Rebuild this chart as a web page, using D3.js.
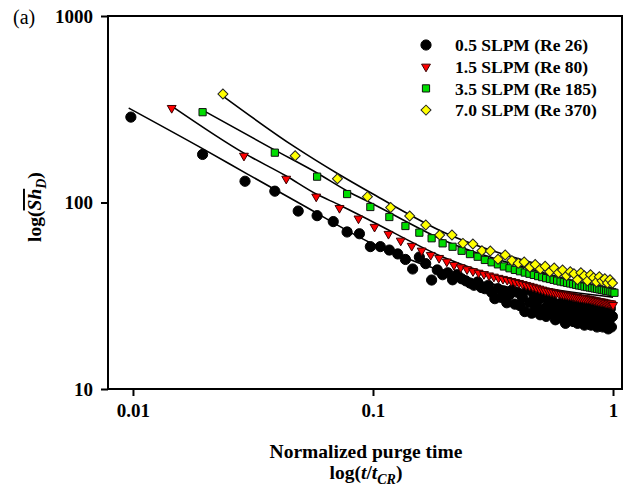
<!DOCTYPE html>
<html lang="en">
  <head>
    <meta charset="UTF-8" />
    <title>Sherwood number vs normalized purge time</title>
    <script src="https://cdn.jsdelivr.net/npm/d3@7"></script>
    <style>
      body { margin: 0; background: #fff; }
      svg text { font-family: "Liberation Serif", "Times New Roman", serif; }
    </style>
  </head>
  <body>
    <div id="chart"></div>
    <script>
      // values (t/tCR and mean Sh_D)
      const seriesLabels = ["0.5 SLPM (Re 26)", "1.5 SLPM (Re 80)", "3.5 SLPM (Re 185)", "7.0 SLPM (Re 370)"];
      const xTicks = [0.01, 0.1, 1];
      const xTickLabels = ["0.01", "0.1", "1"];
      const yTicks = [10, 100, 1000];
      const yTickLabels = ["10", "100", "1000"];

      const blackT = [0.0098, 0.0195, 0.0293, 0.039, 0.0488, 0.0585, 0.0683, 0.078, 0.0878, 0.0975,
        0.1073, 0.117, 0.1268, 0.1365, 0.1463, 0.156, 0.1658, 0.1755, 0.1853, 0.195,
        0.2048, 0.2145, 0.2243, 0.234, 0.2438, 0.2535, 0.2633, 0.273, 0.2828, 0.2925,
        0.3023, 0.312, 0.3218, 0.3315, 0.3413, 0.351, 0.3608, 0.3705, 0.3803, 0.39,
        0.3998, 0.4095, 0.4193, 0.429, 0.4388, 0.4485, 0.4583, 0.468, 0.4778, 0.4875,
        0.4973, 0.507, 0.5168, 0.5265, 0.5363, 0.546, 0.5558, 0.5655, 0.5753, 0.585,
        0.5948, 0.6045, 0.6143, 0.624, 0.6338, 0.6435, 0.6533, 0.663, 0.6728, 0.6825,
        0.6923, 0.702, 0.7118, 0.7215, 0.7313, 0.741, 0.7508, 0.7605, 0.7703, 0.78,
        0.7898, 0.7995, 0.8093, 0.819, 0.8288, 0.8385, 0.8483, 0.858, 0.8678, 0.8775,
        0.8873, 0.897, 0.9068, 0.9165, 0.9263, 0.936, 0.9458, 0.9555, 0.9653, 0.975,
        0.9848, 0.9945];
      const blackV = [287, 181, 130, 115, 90, 85, 79, 69.5, 68, 58,
        58, 55.6, 53, 49.5, 44, 51, 47, 38.4, 43.5, 41,
        42, 38.5, 41, 39, 38, 37, 36, 37.5, 35, 34.5,
        36, 33, 30.5, 34.5, 31, 33.5, 29, 32, 34, 28.5,
        33, 28, 31, 26, 34, 29, 25.5, 32, 27.5, 30,
        25, 31.5, 27, 24.5, 29.5, 27, 30, 25.5, 23.5, 28.5,
        26, 24, 29, 25, 22.5, 27.5, 24.5, 29, 26, 23,
        28, 25, 22.5, 27, 29.5, 24, 26.5, 22, 25.5, 28.5,
        23.5, 26, 22, 25, 28, 23, 26.5, 21.5, 24.5, 28,
        22.5, 25.5, 21.5, 24, 27.5, 22, 25, 21, 23.5, 27,
        21.5, 24.5];

      const redT = [0.0145, 0.029, 0.0435, 0.058, 0.0725, 0.087, 0.1015, 0.116, 0.1305, 0.145,
        0.1595, 0.174, 0.1885, 0.203, 0.2175, 0.232, 0.2465, 0.261, 0.2755, 0.29,
        0.3045, 0.319, 0.3335, 0.348, 0.3625, 0.377, 0.3915, 0.406, 0.4205, 0.435,
        0.4495, 0.464, 0.4785, 0.493, 0.5075, 0.522, 0.5365, 0.551, 0.5655, 0.58,
        0.5945, 0.609, 0.6235, 0.638, 0.6525, 0.667, 0.6815, 0.696, 0.7105, 0.725,
        0.7395, 0.754, 0.7685, 0.783, 0.7975, 0.812, 0.8265, 0.841, 0.8555, 0.87,
        0.8845, 0.899, 0.9135, 0.928, 0.9425, 0.957, 0.9715, 0.986, 1.0005];
      const redV = [321, 178, 134, 107.5, 93.4, 82, 74, 67.8, 62.4, 58.5,
        55.2, 52.3, 50.4, 48.2, 46.2, 44.9, 43.8, 42.8, 42, 41.3,
        40.6, 40, 39.4, 38.9, 38.4, 37.9, 37.4, 37, 36.5, 36.1,
        35.7, 35.3, 34.9, 34.5, 34.1, 33.7, 33.5, 33.2, 33, 32.7,
        32.5, 32.3, 32.1, 32, 31.8, 31.6, 31.4, 31.2, 31.1, 30.9,
        30.8, 30.7, 30.6, 30.5, 30.4, 30.2, 30.1, 29.9, 29.8, 29.6,
        29.5, 29.4, 29.3, 29.1, 29, 28.9, 28.8, 28.7, 28.2];

      const greenT = [0.0195, 0.039, 0.0585, 0.078, 0.0975, 0.117, 0.1365, 0.156, 0.1755, 0.195,
        0.2145, 0.234, 0.2535, 0.273, 0.2925, 0.312, 0.3315, 0.351, 0.3705, 0.39,
        0.4095, 0.429, 0.4485, 0.468, 0.4875, 0.507, 0.5265, 0.546, 0.5655, 0.585,
        0.6045, 0.624, 0.6435, 0.663, 0.6825, 0.702, 0.7215, 0.741, 0.7605, 0.78,
        0.7995, 0.819, 0.8385, 0.858, 0.8775, 0.897, 0.9165, 0.936, 0.9555, 0.975,
        0.9945, 1.014];
      const greenV = [305, 185, 137.6, 111, 94.6, 83.6, 74.8, 68.9, 64.3, 60.4,
        57.9, 55.1, 52.9, 51.2, 49.2, 47.8, 46.6, 45.4, 44.4, 43.5,
        42.8, 42.1, 41.5, 40.9, 40.3, 39.8, 39.3, 38.9, 38.5, 38.1,
        37.7, 37.4, 37.1, 36.8, 36.5, 36.2, 35.9, 35.7, 35.4, 35.2,
        35, 34.8, 34.6, 34.4, 34.2, 34, 33.8, 33.6, 33.5, 33.3,
        33.1, 32.8];

      const yellowT = [0.0237, 0.0474, 0.0711, 0.0948, 0.1185, 0.1422, 0.1659, 0.1896, 0.2133, 0.237,
        0.2607, 0.2844, 0.3081, 0.3318, 0.3555, 0.3792, 0.4029, 0.4266, 0.4503, 0.474,
        0.4977, 0.5214, 0.5451, 0.5688, 0.5925, 0.6162, 0.6399, 0.6636, 0.6873, 0.711,
        0.7347, 0.7584, 0.7821, 0.8058, 0.8295, 0.8532, 0.8769, 0.9006, 0.9243, 0.948,
        0.9717, 0.9954];
      const yellowV = [382, 178, 134, 107.5, 94, 84.7, 75.7, 67, 67, 60.4,
        59.9, 55.1, 55, 49.6, 52.3, 48.8, 47.2, 48, 45, 46.5,
        44, 45.5, 42.5, 44.5, 42, 43.5, 40.5, 42.5, 41.5, 38.5,
        42, 40.5, 38, 41, 39.5, 37.5, 40, 38, 39, 37, 38.5, 37];

      // fitted curves, read at a few points
      const blackFitT = [0.0096, 0.02, 0.03, 0.05, 0.1, 0.2, 0.5, 1];
      const blackFitV = [321, 191, 142, 98.2, 59.9, 42.4, 32.7, 28.9];
      const redFitT = [0.0145, 0.029, 0.0435, 0.058, 0.0725, 0.1, 0.2, 0.5, 1];
      const redFitV = [329, 184, 138.7, 111, 97, 78.6, 50.4, 35.2, 31.1];
      const greenFitT = [0.0195, 0.039, 0.0585, 0.078, 0.1, 0.2, 0.5, 1];
      const greenFitV = [313, 191, 144, 115.3, 98.2, 62.2, 42.4, 33.5];
      const yellowFitT = [0.0237, 0.0474, 0.0711, 0.1, 0.2, 0.5, 1];
      const yellowFitV = [372, 198, 143, 111, 68.6, 46.2, 37.9];

      const series = [
        { t: blackT, v: blackV, fitT: blackFitT, fitV: blackFitV },
        { t: redT, v: redV, fitT: redFitT, fitV: redFitV },
        { t: greenT, v: greenV, fitT: greenFitT, fitV: greenFitV },
        { t: yellowT, v: yellowV, fitT: yellowFitT, fitV: yellowFitV },
      ];

      // marker styles per series
      const styles = [
        { shape: d3.symbolCircle, size: 82, rotate: 0, fill: "#000", stroke: "#000" },
        { shape: d3.symbolTriangle, size: 34, rotate: 180, fill: "#ff0000", stroke: "#3a0000" },
        { shape: d3.symbolSquare, size: 52, rotate: 0, fill: "#00dd00", stroke: "#111" },
        { shape: d3.symbolSquare, size: 50, rotate: 45, fill: "#ffff00", stroke: "#222" },
      ];

      const margin = { top: 16, right: 9, bottom: 99, left: 108 },
        width = 631 - margin.left - margin.right,
        height = 488 - margin.top - margin.bottom;

      const root = d3
        .select("#chart")
        .append("svg")
        .attr("width", 631)
        .attr("height", 488);

      const svg = root
        .append("g")
        .attr("transform", "translate(" + margin.left + "," + margin.top + ")");

      const x = d3.scaleLog().domain([0.00787, 1.09]).range([0, width]);
      const y = d3.scaleLog().domain([10, 1000]).range([height, 0]);

      // axes
      const xAxis = d3
        .axisBottom(x)
        .tickValues(xTicks)
        .tickFormat((d, i) => xTickLabels[i])
        .tickSize(7)
        .tickPadding(8);
      const yAxis = d3
        .axisLeft(y)
        .tickValues(yTicks)
        .tickFormat((d, i) => yTickLabels[i])
        .tickSize(7)
        .tickPadding(8);

      const gx = svg
        .append("g")
        .attr("transform", "translate(0," + height + ")")
        .call(xAxis);
      const gy = svg.append("g").call(yAxis);

      [gx, gy].forEach((g) => {
        g.select(".domain").remove();
        g.selectAll(".tick line").attr("stroke", "#000").attr("stroke-width", 2);
        g.selectAll(".tick text")
          .attr("fill", "#000")
          .style("font-size", "19px")
          .style("font-weight", "bold")
          .style("font-family", '"Liberation Serif", "Times New Roman", serif');
      });

      // fitted curves
      const line = d3
        .line()
        .x((d) => x(d[0]))
        .y((d) => y(d[1]))
        .curve(d3.curveMonotoneX);

      series.forEach((s) => {
        svg
          .append("path")
          .datum(s.fitT.map((t, i) => [t, s.fitV[i]]))
          .attr("fill", "none")
          .attr("stroke", "#000")
          .attr("stroke-width", 1.6)
          .attr("d", line);
      });

      // markers
      series.forEach((s, si) => {
        const st = styles[si];
        const sym = d3.symbol().type(st.shape).size(st.size);
        svg
          .append("g")
          .selectAll("path")
          .data(s.t.map((t, i) => [t, s.v[i]]))
          .enter()
          .append("path")
          .attr("d", sym)
          .attr(
            "transform",
            (d) => "translate(" + x(d[0]) + "," + y(d[1]) + ") rotate(" + st.rotate + ")"
          )
          .attr("fill", st.fill)
          .attr("stroke", st.stroke)
          .attr("stroke-width", 1);
      });

      // frame
      svg
        .append("rect")
        .attr("width", width)
        .attr("height", height)
        .attr("fill", "none")
        .attr("stroke", "#000")
        .attr("stroke-width", 2);

      // legend
      const legend = root.append("g").attr("transform", "translate(426,45)");
      seriesLabels.forEach((label, i) => {
        const st = styles[i];
        const row = legend.append("g").attr("transform", "translate(0," + i * 21.7 + ")");
        row
          .append("path")
          .attr("d", d3.symbol().type(st.shape).size(st.size)())
          .attr("transform", "rotate(" + st.rotate + ")")
          .attr("fill", st.fill)
          .attr("stroke", st.stroke)
          .attr("stroke-width", 1);
        row
          .append("text")
          .attr("x", 29)
          .attr("dy", "0.35em")
          .style("font-size", "17.5px")
          .style("font-weight", "bold")
          .text(label);
      });

      // panel tag
      root
        .append("text")
        .attr("x", 13)
        .attr("y", 24)
        .style("font-size", "20px")
        .text("(a)");

      // x title
      root
        .append("text")
        .attr("x", 366)
        .attr("y", 458)
        .attr("text-anchor", "middle")
        .style("font-size", "19.5px")
        .style("font-weight", "bold")
        .text("Normalized purge time");

      const xt2 = root
        .append("text")
        .attr("x", 366)
        .attr("y", 479)
        .attr("text-anchor", "middle")
        .style("font-size", "19.5px")
        .style("font-weight", "bold");
      xt2.append("tspan").text("log(");
      xt2.append("tspan").style("font-style", "italic").text("t");
      xt2.append("tspan").text("/");
      xt2.append("tspan").style("font-style", "italic").text("t");
      xt2
        .append("tspan")
        .style("font-style", "italic")
        .style("font-size", "14px")
        .attr("dy", 5)
        .text("CR");
      xt2.append("tspan").attr("dy", -5).text(")");

      // y title
      const yt = root
        .append("text")
        .attr("transform", "translate(41,207) rotate(-90)")
        .attr("text-anchor", "middle")
        .style("font-size", "19.5px")
        .style("font-weight", "bold");
      yt.append("tspan").text("log(");
      yt.append("tspan")
        .style("font-style", "italic")
        .style("text-decoration", "overline")
        .text("Sh");
      yt.append("tspan")
        .style("font-style", "italic")
        .style("font-size", "14px")
        .attr("dy", 5)
        .text("D");
      yt.append("tspan").attr("dy", -5).text(")");
    </script>
  </body>
</html>
